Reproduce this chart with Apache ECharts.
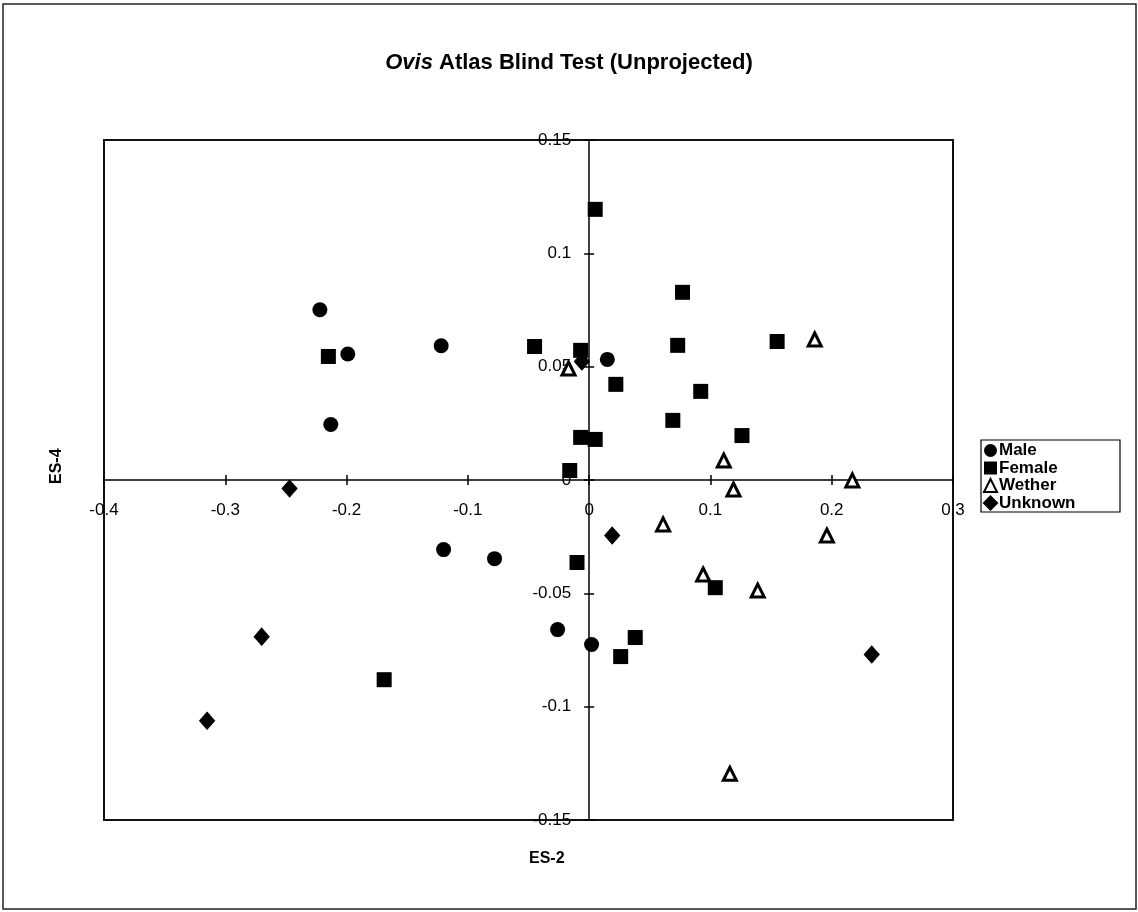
<!DOCTYPE html>
<html>
<head>
<meta charset="utf-8">
<script src="https://cdn.jsdelivr.net/npm/echarts@6/dist/echarts.min.js"></script>
<style>
html,body{margin:0;padding:0;background:#fff;}
#chart{width:1138px;height:912px;}
</style>
</head>
<body>
<div id="chart"></div>
<script>
// Data (ES-2, ES-4)
const male = [
  [-0.222, 0.0751], [-0.199, 0.0556], [-0.122, 0.0592], [-0.213, 0.0245],
  [0.015, 0.0532], [-0.120, -0.0307], [-0.078, -0.0347], [-0.026, -0.0660],
  [0.002, -0.0726]
];
const female = [
  [0.005, 0.1194], [0.077, 0.0828], [-0.215, 0.0545], [-0.045, 0.0589],
  [-0.007, 0.0572], [0.073, 0.0594], [0.022, 0.0422], [0.092, 0.0391],
  [0.069, 0.0263], [-0.007, 0.0188], [0.005, 0.0179], [-0.016, 0.0042],
  [0.155, 0.0611], [0.126, 0.0196], [-0.010, -0.0364], [0.104, -0.0475],
  [0.038, -0.0695], [0.026, -0.0779], [-0.169, -0.0881]
];
const wether = [
  [-0.017, 0.0492], [0.186, 0.0620], [0.111, 0.0086], [0.119, -0.0042],
  [0.217, -0.0002], [0.061, -0.0196], [0.196, -0.0245], [0.094, -0.0417],
  [0.139, -0.0488], [0.116, -0.1296]
];
const unknown = [
  [-0.247, -0.0038], [-0.270, -0.0691], [-0.315, -0.1062], [0.019, -0.0245],
  [0.233, -0.0770], [-0.006, 0.0523]
];
const seriesNames = ['Male', 'Female', 'Wether', 'Unknown'];
const xTicks = [-0.4, -0.3, -0.2, -0.1, 0, 0.1, 0.2, 0.3];
const yTicks = [-0.15, -0.1, -0.05, 0, 0.05, 0.1, 0.15];
const xRange = [-0.4, 0.3];
const yRange = [-0.15, 0.15];
const xStep = 0.1;
const yStep = 0.05;

const FONT = 'Liberation Sans, Arial, sans-serif';
const chart = echarts.init(document.getElementById('chart'), null, {renderer: 'canvas'});

const labelFont = {color: '#000', fontFamily: FONT, fontSize: 17};

const tickAxis = (extra) => Object.assign({
  type: 'value',
  axisTick: {show: true, length: 5, lineStyle: {color: '#000', width: 1.5}},
  axisLabel: {show: false},
  splitLine: {show: false}
}, extra);

const option = {
  backgroundColor: '#fff',
  animation: false,
  title: {
    text: '{i|Ovis} Atlas Blind Test (Unprojected)',
    left: 'center',
    top: 47,
    textStyle: {
      fontFamily: FONT, fontSize: 22, fontWeight: 'bold', color: '#000',
      rich: {i: {fontFamily: FONT, fontSize: 22, fontWeight: 'bold', fontStyle: 'italic', color: '#000'}}
    }
  },
  graphic: [
    {type: 'rect', shape: {x: 3, y: 4, width: 1133, height: 905}, style: {fill: 'none', stroke: '#222', lineWidth: 1.5}, silent: true, z: -1},
    {type: 'rect', shape: {x: 981, y: 440, width: 139, height: 72}, style: {fill: 'none', stroke: '#000', lineWidth: 1.2}, silent: true},
    {type: 'text', left: 529, top: 851, style: {text: 'ES-2', font: 'bold 16px ' + FONT, fill: '#000'}},
    {type: 'text', x: 49, y: 484, rotation: Math.PI / 2, style: {text: 'ES-4', font: 'bold 16px ' + FONT, fill: '#000'}}
  ],
  legend: {
    orient: 'vertical',
    left: 981,
    top: 441,
    padding: [1, 2, 1, 2],
    itemGap: 0.5,
    itemWidth: 13,
    itemHeight: 13,
    itemStyle: {opacity: 1},
    textStyle: {fontFamily: FONT, fontSize: 17, fontWeight: 'bold', color: '#000', padding: [0, 0, 0, -3]},
    data: seriesNames
  },
  grid: {
    left: 104, top: 140, right: 185, bottom: 92,
    show: true, borderColor: '#111', borderWidth: 2, backgroundColor: '#fff'
  },
  xAxis: [
    tickAxis({min: xRange[0], max: xRange[1], interval: xStep,
      axisLine: {onZero: true, lineStyle: {color: '#000', width: 1.5}}}),
    tickAxis({min: xRange[0], max: xRange[1], interval: xStep, position: 'top',
      axisLine: {show: false, onZero: true}})
  ],
  yAxis: [
    tickAxis({min: yRange[0], max: yRange[1], interval: yStep,
      axisLine: {onZero: true, lineStyle: {color: '#000', width: 1.5}}}),
    tickAxis({min: yRange[0], max: yRange[1], interval: yStep, position: 'right',
      axisLine: {show: false, onZero: true}})
  ],
  series: [
    {name: seriesNames[0], type: 'scatter', data: male, symbol: 'circle', symbolSize: 15,
     itemStyle: {color: '#000', opacity: 1}},
    {name: seriesNames[1], type: 'scatter', data: female, symbol: 'rect', symbolSize: 15,
     itemStyle: {color: '#000', opacity: 1}},
    {name: seriesNames[2], type: 'scatter', data: wether, symbol: 'triangle', symbolSize: 13,
     itemStyle: {color: '#fff', borderColor: '#000', borderWidth: 3, opacity: 1}},
    {name: seriesNames[3], type: 'scatter', data: unknown, symbol: 'diamond', symbolSize: [15, 17],
     itemStyle: {color: '#000', borderColor: '#000', borderWidth: 1, opacity: 1}},
    // tick labels placed next to the axis lines (Excel "next to axis" style)
    {name: 'xTickLabels', type: 'scatter', symbolSize: 0, silent: true, clip: false, z: 1,
     itemStyle: {opacity: 1},
     data: xTicks.map(v => [v, 0]),
     label: Object.assign({show: true, position: 'inside', offset: [0, 30], align: 'center', verticalAlign: 'middle',
       formatter: p => String(p.value[0])}, labelFont)},
    {name: 'yTickLabels', type: 'scatter', symbolSize: 0, silent: true, clip: false, z: 1,
     itemStyle: {opacity: 1},
     data: yTicks.map(v => [0, v]),
     label: Object.assign({show: true, position: 'inside', offset: [-18, 0], align: 'right', verticalAlign: 'middle',
       formatter: p => String(p.value[1])}, labelFont)}
  ]
};
chart.setOption(option);
</script>
</body>
</html>
